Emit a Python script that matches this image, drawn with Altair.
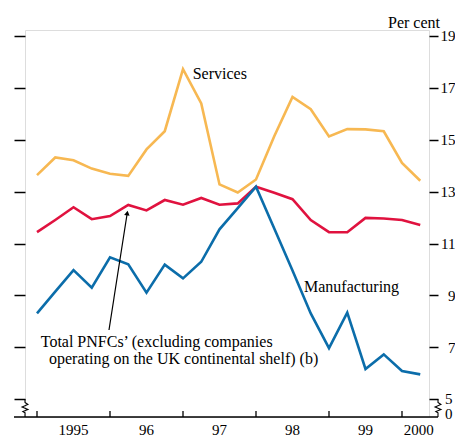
import altair as alt
import pandas as pd

# ---------------- data ----------------
quarters = [1995.00, 1995.25, 1995.50, 1995.75, 1996.00, 1996.25, 1996.50, 1996.75,
            1997.00, 1997.25, 1997.50, 1997.75, 1998.00, 1998.25, 1998.50, 1998.75,
            1999.00, 1999.25, 1999.50, 1999.75, 2000.00, 2000.25]
services = [13.64, 14.32, 14.21, 13.89, 13.69, 13.61, 14.63, 15.33, 17.72, 16.40, 13.28,
            12.97, 13.47, 15.14, 16.65, 16.18, 15.13, 15.41, 15.40, 15.33, 14.11, 13.42]
total_pnfc = [11.44, 11.91, 12.40, 11.94, 12.06, 12.49, 12.28, 12.68, 12.50, 12.76, 12.50,
              12.55, 13.19, 12.96, 12.71, 11.91, 11.44, 11.44, 11.99, 11.97, 11.91, 11.72]
manufacturing = [8.31, 9.15, 9.98, 9.30, 10.47, 10.20, 9.11, 10.19, 9.66, 10.30, 11.55,
                 12.37, 13.19, 11.58, 9.96, 8.31, 6.97, 8.34, 6.17, 6.73, 6.09, 5.96]

series_names = ["Services", "Total", "Manufacturing"]
series_colors = ["#F7B852", "#E0123F", "#0B6DAA"]

year_ticks = [1995, 1996, 1997, 1998, 1999, 2000]
year_label_pos = [1995.5, 1996.5, 1997.5, 1998.5, 1999.5, 2000.23]
year_labels = ["1995", "96", "97", "98", "99", "2000"]

y_ticks = [5, 7, 9, 11, 13, 15, 17, 19]

# annotation texts (x, y in data units)
ann_text = ["Services", "Manufacturing", "Total PNFCs\u2019 (excluding companies",
            "operating on the UK continental shelf) (b)"]
ann_x = [1997.133, 1998.658, 1995.051, 1995.164]
ann_y = [17.54, 9.34, 7.21, 6.55]

arrow_x = [1995.986, 1996.236]
arrow_y = [7.67, 12.18]

# axis-break zigzags
brk_dx = [0.0, 0.0, 0.04, -0.04, 0.04, -0.03, 0.0, 0.0]
brk_y = [5.0, 4.88, 4.80, 4.70, 4.61, 4.53, 4.48, 4.318]

X_DOM = [1994.8356, 2000.3699]
Y_DOM = [4.318, 19.231]
W, H = 404, 387
FONT = "Liberation Serif"

rows = []
for name, vals in zip(series_names, [services, total_pnfc, manufacturing]):
    for q, v in zip(quarters, vals):
        rows.append({"date": q, "value": v, "series": name})
df = pd.DataFrame(rows)

xs = alt.Scale(domain=X_DOM, nice=False, zero=False)
ys = alt.Scale(domain=Y_DOM, nice=False, zero=False)


def X(field):
    return alt.X(field, scale=xs, axis=None)


def Y(field):
    return alt.Y(field, scale=ys, axis=None)


lines = alt.Chart(df).mark_line(strokeWidth=2.6).encode(
    x=X("date:Q"),
    y=alt.Y("value:Q", scale=ys,
            axis=alt.Axis(orient="left", values=y_ticks, labels=False, domain=False,
                          grid=False, tickSize=11, tickWidth=1.5, tickColor="black",
                          title=None)),
    color=alt.Color("series:N", scale=alt.Scale(domain=series_names, range=series_colors),
                    legend=None),
    order=alt.Order("date:Q"),
)

right_axis = alt.Chart(pd.DataFrame({"v": y_ticks})).mark_point(opacity=0).encode(
    y=alt.Y("v:Q", scale=ys,
            axis=alt.Axis(orient="right", values=y_ticks, domain=False, grid=False,
                          tickSize=9, tickWidth=1.5, tickColor="black",
                          labelAlign="right", labelPadding=17, labelFont=FONT,
                          labelFontSize=15, labelColor="black", title=None,
                          labelExpr="datum.value == 5 ? '' : datum.label")),
)

xaxis_line = alt.Chart(pd.DataFrame({"a": [0]})).mark_rule(color="black", strokeWidth=1.5).encode(
    x=alt.value(-11), x2=alt.value(413), y=alt.value(H)
)

xticks = alt.Chart(pd.DataFrame({"yr": year_ticks})).mark_rule(color="black", strokeWidth=1.3).encode(
    x=X("yr:Q"), y=alt.value(H - 6), y2=alt.value(H)
)

xlabels = alt.Chart(pd.DataFrame({"p": year_label_pos, "t": year_labels})).mark_text(
    font=FONT, fontSize=15, baseline="middle", align="center", color="black"
).encode(x=X("p:Q"), y=alt.value(H + 13), text="t:N")

ann = alt.Chart(pd.DataFrame({"x": ann_x, "y": ann_y, "t": ann_text})).mark_text(
    font=FONT, fontSize=16, align="left", baseline="middle", color="black"
).encode(x=X("x:Q"), y=Y("y:Q"), text="t:N")

arrow_df = pd.DataFrame({"x": [arrow_x[0]], "y": [arrow_y[0]], "x2": [arrow_x[1]], "y2": [arrow_y[1]]})
arrow_line = alt.Chart(arrow_df).mark_rule(color="black", strokeWidth=1.2).encode(
    x=X("x:Q"), y=Y("y:Q"), x2="x2:Q", y2="y2:Q"
)
arrow_head = alt.Chart(pd.DataFrame({"x": [arrow_x[1]], "y": [arrow_y[1]]})).mark_point(
    shape="triangle-up", filled=True, size=30, angle=9, color="black", opacity=1
).encode(x=X("x:Q"), y=Y("y:Q"))

brk_rows = []
for side, x0 in [("L", X_DOM[0]), ("R", 2000.4932)]:
    for k, (dx, yy) in enumerate(zip(brk_dx, brk_y)):
        brk_rows.append({"side": side, "k": k, "x": x0 + dx, "y": yy})
brk = alt.Chart(pd.DataFrame(brk_rows)).mark_line(color="black", strokeWidth=1.1).encode(
    x=X("x:Q"), y=Y("y:Q"), detail="side:N", order="k:Q"
)

brk_labels = alt.Chart(pd.DataFrame({"y": [5.0, 4.44], "t": ["5", "0"]})).mark_text(
    font=FONT, fontSize=15, align="left", baseline="middle", color="black"
).encode(x=alt.value(420), y=Y("y:Q"), text="t:N")

percent = alt.Chart(pd.DataFrame({"t": ["Per cent"]})).mark_text(
    font=FONT, fontSize=16, align="right", baseline="middle", color="black"
).encode(x=alt.value(415), y=alt.value(-7), text="t:N")

chart = alt.layer(
    lines, right_axis, xaxis_line, xticks, xlabels, ann, arrow_line, arrow_head,
    brk, brk_labels, percent
).properties(
    width=W, height=H,
    autosize=alt.AutoSizeParams(type="none"),
    padding={"left": 17, "top": 22, "right": 26, "bottom": 21},
).configure_view(stroke=None).configure(background="white")

chart.save("out.html", embed_options={"renderer": "svg", "actions": False})
